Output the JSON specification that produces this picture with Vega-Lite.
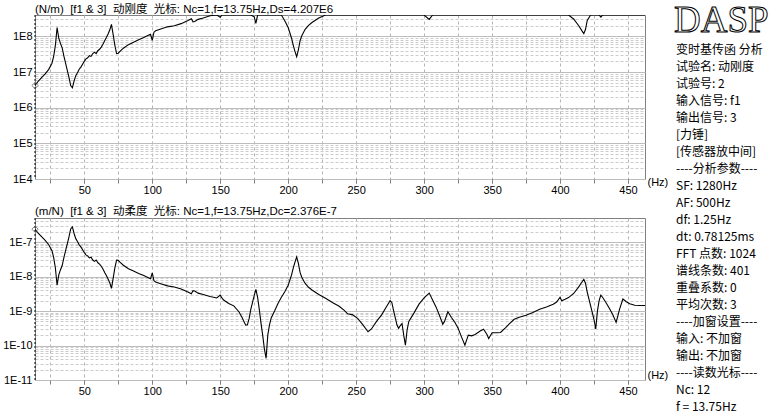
{
  "$schema": "https://vega.github.io/schema/vega-lite/v6.json",
  "background": "white",
  "padding": {"left": 0, "top": 2, "right": 0, "bottom": 0},
  "datasets": {
    "spec": [
      {"f":13.75,"k":4.207e6,"c":2.376e-7},{"f":16.25,"k":5.623e6,"c":1.778e-7},{"f":18.75,"k":7.079e6,"c":1.413e-7},{"f":21.25,"k":8.913e6,"c":1.122e-7},
      {"f":23.75,"k":1.175e7,"c":8.511e-8},{"f":26.25,"k":1.778e7,"c":5.623e-8},{"f":27.5,"k":2.818e7,"c":3.548e-8},{"f":28.75,"k":5.623e7,"c":1.778e-8},
      {"f":30.0,"k":1.778e8,"c":5.623e-9},{"f":31.25,"k":8.913e7,"c":1.122e-8},{"f":32.5,"k":6.310e7,"c":1.585e-8},{"f":33.75,"k":4.786e7,"c":2.089e-8},
      {"f":35.0,"k":2.818e7,"c":3.548e-8},{"f":36.25,"k":1.778e7,"c":5.623e-8},{"f":37.5,"k":1.122e7,"c":8.913e-8},{"f":38.75,"k":7.079e6,"c":1.413e-7},
      {"f":40.0,"k":4.169e6,"c":2.399e-7},{"f":41.25,"k":3.631e6,"c":2.754e-7},{"f":42.5,"k":5.623e6,"c":1.778e-7},{"f":43.75,"k":7.943e6,"c":1.259e-7},
      {"f":45.0,"k":9.550e6,"c":1.047e-7},{"f":46.25,"k":1.202e7,"c":8.318e-8},{"f":47.5,"k":1.380e7,"c":7.244e-8},{"f":48.75,"k":1.660e7,"c":6.026e-8},
      {"f":50.0,"k":1.995e7,"c":5.012e-8},{"f":51.25,"k":2.344e7,"c":4.266e-8},{"f":52.5,"k":2.512e7,"c":3.981e-8},{"f":53.75,"k":2.884e7,"c":3.467e-8},
      {"f":55.0,"k":2.754e7,"c":3.631e-8},{"f":56.25,"k":3.311e7,"c":3.020e-8},{"f":57.5,"k":3.631e7,"c":2.754e-8},{"f":58.75,"k":3.311e7,"c":3.020e-8},
      {"f":60.0,"k":3.981e7,"c":2.512e-8},{"f":61.25,"k":4.365e7,"c":2.291e-8},{"f":62.5,"k":5.012e7,"c":1.995e-8},{"f":63.75,"k":6.026e7,"c":1.660e-8},
      {"f":65.0,"k":7.586e7,"c":1.318e-8},{"f":66.25,"k":9.333e7,"c":1.072e-8},{"f":67.5,"k":1.175e8,"c":8.511e-9},{"f":68.75,"k":1.514e8,"c":6.607e-9},
      {"f":70.0,"k":2.188e8,"c":4.571e-9},{"f":71.25,"k":1.122e8,"c":8.913e-9},{"f":72.5,"k":5.623e7,"c":1.778e-8},{"f":73.75,"k":3.311e7,"c":3.020e-8},
      {"f":75.0,"k":3.388e7,"c":2.951e-8},{"f":76.25,"k":3.802e7,"c":2.630e-8},{"f":78.75,"k":4.677e7,"c":2.138e-8},{"f":82.5,"k":5.888e7,"c":1.698e-8},
      {"f":86.25,"k":6.918e7,"c":1.445e-8},{"f":90.0,"k":8.128e7,"c":1.230e-8},{"f":93.75,"k":9.333e7,"c":1.072e-8},{"f":97.5,"k":1.096e8,"c":9.120e-9},
      {"f":98.75,"k":1.148e8,"c":8.710e-9},{"f":100.0,"k":7.762e7,"c":1.288e-8},{"f":101.25,"k":1.318e8,"c":7.586e-9},{"f":102.5,"k":1.445e8,"c":6.918e-9},
      {"f":106.25,"k":1.622e8,"c":6.166e-9},{"f":111.25,"k":1.862e8,"c":5.370e-9},{"f":116.25,"k":1.995e8,"c":5.012e-9},{"f":121.25,"k":2.291e8,"c":4.365e-9},
      {"f":126.25,"k":2.818e8,"c":3.548e-9},{"f":128.75,"k":3.162e8,"c":3.162e-9},{"f":130.0,"k":2.570e8,"c":3.890e-9},{"f":131.25,"k":2.630e8,"c":3.802e-9},
      {"f":133.75,"k":3.020e8,"c":3.311e-9},{"f":137.5,"k":3.311e8,"c":3.020e-9},{"f":142.5,"k":3.802e8,"c":2.630e-9},{"f":147.5,"k":4.169e8,"c":2.399e-9},
      {"f":150.0,"k":3.467e8,"c":2.884e-9},{"f":151.25,"k":4.169e8,"c":2.399e-9},{"f":152.5,"k":4.786e8,"c":2.089e-9},{"f":156.25,"k":6.026e8,"c":1.660e-9},
      {"f":160.0,"k":7.079e8,"c":1.413e-9},{"f":163.75,"k":1.047e9,"c":9.550e-10},{"f":166.25,"k":1.585e9,"c":6.310e-10},{"f":168.75,"k":2.570e9,"c":3.890e-10},
      {"f":170.0,"k":2.512e9,"c":3.981e-10},{"f":171.25,"k":1.660e9,"c":6.026e-10},{"f":172.5,"k":8.913e8,"c":1.122e-9},{"f":175.0,"k":3.548e8,"c":2.818e-9},
      {"f":176.25,"k":2.344e8,"c":4.266e-9},{"f":177.5,"k":3.981e8,"c":2.512e-9},{"f":178.75,"k":8.913e8,"c":1.122e-9},{"f":180.0,"k":2.239e9,"c":4.467e-10},
      {"f":181.25,"k":5.012e9,"c":1.995e-10},{"f":182.5,"k":1.259e10,"c":7.943e-11},{"f":183.75,"k":2.344e10,"c":4.266e-11},{"f":185.0,"k":5.012e9,"c":1.995e-10},
      {"f":186.25,"k":2.512e9,"c":3.981e-10},{"f":187.5,"k":1.585e9,"c":6.310e-10},{"f":190.0,"k":1.0e9,"c":1.0e-9},{"f":192.5,"k":6.026e8,"c":1.660e-9},
      {"f":195.0,"k":3.981e8,"c":2.512e-9},{"f":197.5,"k":2.754e8,"c":3.631e-9},{"f":200.0,"k":1.778e8,"c":5.623e-9},{"f":202.5,"k":8.913e7,"c":1.122e-8},
      {"f":203.75,"k":5.623e7,"c":1.778e-8},{"f":205.0,"k":3.802e7,"c":2.630e-8},{"f":206.25,"k":2.692e7,"c":3.715e-8},{"f":207.5,"k":4.169e7,"c":2.399e-8},
      {"f":208.75,"k":7.586e7,"c":1.318e-8},{"f":210.0,"k":1.047e8,"c":9.550e-9},{"f":212.5,"k":1.585e8,"c":6.310e-9},{"f":215.0,"k":2.042e8,"c":4.898e-9},
      {"f":217.5,"k":2.455e8,"c":4.074e-9},{"f":222.5,"k":3.311e8,"c":3.020e-9},{"f":227.5,"k":4.266e8,"c":2.344e-9},{"f":232.5,"k":5.623e8,"c":1.778e-9},
      {"f":237.5,"k":7.244e8,"c":1.380e-9},{"f":241.25,"k":9.550e8,"c":1.047e-9},{"f":243.75,"k":1.202e9,"c":8.318e-10},{"f":247.5,"k":1.288e9,"c":7.762e-10},
      {"f":251.25,"k":1.660e9,"c":6.026e-10},{"f":255.0,"k":2.512e9,"c":3.981e-10},{"f":258.75,"k":3.981e9,"c":2.512e-10},{"f":261.25,"k":3.311e9,"c":3.020e-10},
      {"f":265.0,"k":1.995e9,"c":5.012e-10},{"f":268.75,"k":1.288e9,"c":7.762e-10},{"f":272.5,"k":7.244e8,"c":1.380e-9},{"f":275.0,"k":5.012e8,"c":1.995e-9},
      {"f":276.25,"k":5.623e8,"c":1.778e-9},{"f":277.5,"k":9.550e8,"c":1.047e-9},{"f":280.0,"k":2.512e9,"c":3.981e-10},{"f":281.25,"k":3.162e9,"c":3.162e-10},
      {"f":282.5,"k":2.630e9,"c":3.802e-10},{"f":283.75,"k":2.291e9,"c":4.365e-10},{"f":285.0,"k":5.012e9,"c":1.995e-10},{"f":286.25,"k":9.772e9,"c":1.023e-10},
      {"f":287.5,"k":3.548e9,"c":2.818e-10},{"f":288.75,"k":1.995e9,"c":5.012e-10},{"f":292.5,"k":1.148e9,"c":8.710e-10},{"f":296.25,"k":6.310e8,"c":1.585e-9},
      {"f":300.0,"k":4.169e8,"c":2.399e-9},{"f":303.75,"k":3.020e8,"c":3.311e-9},{"f":306.25,"k":4.786e8,"c":2.089e-9},{"f":308.75,"k":7.586e8,"c":1.318e-9},
      {"f":311.25,"k":1.318e9,"c":7.586e-10},{"f":313.75,"k":2.399e9,"c":4.169e-10},{"f":315.0,"k":1.995e9,"c":5.012e-10},{"f":317.5,"k":1.047e9,"c":9.550e-10},
      {"f":320.0,"k":1.514e9,"c":6.607e-10},{"f":322.5,"k":2.089e9,"c":4.786e-10},{"f":325.0,"k":3.162e9,"c":3.162e-10},{"f":327.5,"k":5.623e9,"c":1.778e-10},
      {"f":330.0,"k":9.772e9,"c":1.023e-10},{"f":332.5,"k":5.012e9,"c":1.995e-10},{"f":335.0,"k":5.248e9,"c":1.905e-10},{"f":337.5,"k":4.786e9,"c":2.089e-10},
      {"f":341.25,"k":3.802e9,"c":2.630e-10},{"f":343.75,"k":3.388e9,"c":2.951e-10},{"f":346.25,"k":4.786e9,"c":2.089e-10},{"f":347.5,"k":6.310e9,"c":1.585e-10},
      {"f":350.0,"k":4.266e9,"c":2.344e-10},{"f":353.75,"k":4.266e9,"c":2.344e-10},{"f":356.25,"k":4.169e9,"c":2.399e-10},{"f":360.0,"k":3.020e9,"c":3.311e-10},
      {"f":362.5,"k":2.399e9,"c":4.169e-10},{"f":366.25,"k":1.738e9,"c":5.754e-10},{"f":370.0,"k":1.514e9,"c":6.607e-10},{"f":375.0,"k":1.318e9,"c":7.586e-10},
      {"f":380.0,"k":1.096e9,"c":9.120e-10},{"f":385.0,"k":8.913e8,"c":1.122e-9},{"f":390.0,"k":7.586e8,"c":1.318e-9},{"f":395.0,"k":6.310e8,"c":1.585e-9},
      {"f":397.5,"k":5.495e8,"c":1.820e-9},{"f":400.0,"k":3.981e8,"c":2.512e-9},{"f":401.25,"k":5.012e8,"c":1.995e-9},{"f":403.75,"k":4.571e8,"c":2.188e-9},
      {"f":406.25,"k":4.074e8,"c":2.455e-9},{"f":410.0,"k":3.090e8,"c":3.236e-9},{"f":413.75,"k":1.995e8,"c":5.012e-9},{"f":416.25,"k":1.413e8,"c":7.079e-9},
      {"f":417.5,"k":1.202e8,"c":8.318e-9},{"f":418.75,"k":1.585e8,"c":6.310e-9},{"f":420.0,"k":2.818e8,"c":3.548e-9},{"f":422.5,"k":7.079e8,"c":1.413e-9},
      {"f":425.0,"k":1.778e9,"c":5.623e-10},{"f":426.25,"k":3.311e9,"c":3.020e-10},{"f":427.5,"k":1.0e9,"c":1.0e-9},{"f":428.75,"k":5.012e8,"c":1.995e-9},
      {"f":430.0,"k":3.467e8,"c":2.884e-9},{"f":431.25,"k":3.981e8,"c":2.512e-9},{"f":433.75,"k":5.623e8,"c":1.778e-9},{"f":436.25,"k":8.318e8,"c":1.202e-9},
      {"f":438.75,"k":1.259e9,"c":7.943e-10},{"f":441.25,"k":2.138e9,"c":4.677e-10},{"f":442.5,"k":1.413e9,"c":7.079e-10},{"f":443.75,"k":8.913e8,"c":1.122e-9},
      {"f":446.25,"k":4.467e8,"c":2.239e-9},{"f":448.75,"k":5.370e8,"c":1.862e-9},{"f":451.25,"k":6.166e8,"c":1.622e-9},{"f":455.0,"k":6.761e8,"c":1.479e-9},
      {"f":458.75,"k":6.918e8,"c":1.445e-9},{"f":462.5,"k":6.918e8,"c":1.445e-9}
    ],
    "cursor": [{"f": 13.75, "k": 4.207e6, "c": 2.376e-7}],
    "logo": [{"line": 0, "text": "DASP"}],
    "info": [
      {"line": 1, "text": "变时基传函 分析"},
      {"line": 2, "text": "试验名: 动刚度"},
      {"line": 3, "text": "试验号: 2"},
      {"line": 4, "text": "输入信号: f1"},
      {"line": 5, "text": "输出信号: 3"},
      {"line": 6, "text": "[力锤]"},
      {"line": 7, "text": "[传感器放中间]"},
      {"line": 8, "text": "----分析参数----"},
      {"line": 9, "text": "SF: 1280Hz"},
      {"line": 10, "text": "AF: 500Hz"},
      {"line": 11, "text": "df: 1.25Hz"},
      {"line": 12, "text": "dt: 0.78125ms"},
      {"line": 13, "text": "FFT 点数: 1024"},
      {"line": 14, "text": "谱线条数: 401"},
      {"line": 15, "text": "重叠系数: 0"},
      {"line": 16, "text": "平均次数: 3"},
      {"line": 17, "text": "----加窗设置----"},
      {"line": 18, "text": "输入: 不加窗"},
      {"line": 19, "text": "输出: 不加窗"},
      {"line": 20, "text": "----读数光标----"},
      {"line": 21, "text": "Nc: 12"},
      {"line": 22, "text": "f = 13.75Hz"}
    ]
  },
  "columns": 2,
  "bounds": "flush",
  "spacing": {"row": 39, "column": 31},
  "concat": [
    {
      "width": 610,
      "height": 164,
      "title": {"text": "(N/m)\u00a0\u00a0[f1 & 3]\u00a0\u00a0动刚度\u00a0\u00a0光标: Nc=1,f=13.75Hz,Ds=4.207E6", "offset": -2},
      "resolve": {"axis": {"x": "independent"}},
      "layer": [
        {
          "data": {"name": "spec"},
          "mark": {"type": "line", "color": "black", "strokeWidth": 1.1, "clip": true},
          "encoding": {
            "x": {"field": "f", "type": "quantitative",
                  "scale": {"domain": [13.75, 462.5], "nice": false, "zero": false},
                  "axis": {"orient": "bottom", "values": [25,50,75,100,125,150,175,200,225,250,275,300,325,350,375,400,425,450],
                           "labels": false, "title": null}},
            "y": {"field": "k", "type": "quantitative",
                  "scale": {"type": "log", "domain": [1e4, 4e8], "nice": false, "clamp": true},
                  "axis": {"values": [1e4,2e4,3e4,4e4,5e4,6e4,7e4,8e4,9e4,1e5,2e5,3e5,4e5,5e5,6e5,7e5,8e5,9e5,1e6,2e6,3e6,4e6,5e6,6e6,7e6,8e6,9e6,1e7,2e7,3e7,4e7,5e7,6e7,7e7,8e7,9e7,1e8,2e8,3e8],
                           "labelExpr": "abs(log(datum.value)/LN10 - round(log(datum.value)/LN10)) < 0.01 ? '1E' + round(log(datum.value)/LN10) : ''",
                           "gridDash": {"condition": {"test": "abs(log(datum.value)/LN10 - round(log(datum.value)/LN10)) < 0.01", "value": []}, "value": [3, 2]},
                           "gridColor": {"condition": {"test": "abs(log(datum.value)/LN10 - round(log(datum.value)/LN10)) < 0.01", "value": "#bdbdbd"}, "value": "#cccccc"}}}
          }
        },
        {
          "data": {"name": "cursor"},
          "mark": {"type": "rule", "color": "black", "strokeDash": [2, 2], "strokeWidth": 1},
          "encoding": {"x": {"field": "f", "type": "quantitative",
                             "axis": {"orient": "bottom", "values": [50,100,150,200,250,300,350,400,450], "grid": false,
                                      "title": "(Hz)", "titleY": 3}}}
        },
        {
          "data": {"name": "cursor"},
          "mark": {"type": "point", "shape": "diamond", "filled": false, "color": "#555555", "size": 40, "strokeWidth": 1},
          "encoding": {"x": {"field": "f", "type": "quantitative", "axis": null}, "y": {"field": "k", "type": "quantitative"}}
        }
      ]
    },
    {
      "width": 100,
      "height": 164,
      "view": {"stroke": null},
      "layer": [
        {
          "data": {"name": "logo"},
          "mark": {"type": "text", "font": "Liberation Serif", "fontSize": 37, "fill": "white", "stroke": "black", "strokeWidth": 1, "align": "left", "baseline": "alphabetic", "dx": -2, "dy": -1},
          "encoding": {
            "x": {"datum": 0, "type": "quantitative", "scale": {"domain": [0, 100], "nice": false, "zero": false}, "axis": null},
            "y": {"field": "line", "type": "quantitative", "scale": {"domain": [-1.059, 8.588], "reverse": true, "nice": false, "zero": false}, "axis": null},
            "text": {"field": "text"}
          }
        },
        {
          "data": {"name": "info"},
          "mark": {"type": "text", "font": "Noto Sans CJK SC", "fontSize": 12, "align": "left", "baseline": "middle", "color": "black"},
          "encoding": {
            "x": {"datum": 0, "type": "quantitative"},
            "y": {"field": "line", "type": "quantitative"},
            "text": {"field": "text"}
          }
        }
      ]
    },
    {
      "width": 610,
      "height": 162,
      "title": {"text": "(m/N)\u00a0\u00a0[f1 & 3]\u00a0\u00a0动柔度\u00a0\u00a0光标: Nc=1,f=13.75Hz,Dc=2.376E-7", "offset": -2},
      "resolve": {"axis": {"x": "independent"}},
      "layer": [
        {
          "data": {"name": "spec"},
          "mark": {"type": "line", "color": "black", "strokeWidth": 1.1, "clip": true},
          "encoding": {
            "x": {"field": "f", "type": "quantitative",
                  "scale": {"domain": [13.75, 462.5], "nice": false, "zero": false},
                  "axis": {"orient": "bottom", "values": [25,50,75,100,125,150,175,200,225,250,275,300,325,350,375,400,425,450],
                           "labels": false, "title": null}},
            "y": {"field": "c", "type": "quantitative",
                  "scale": {"type": "log", "domain": [1e-11, 5e-7], "nice": false, "clamp": true},
                  "axis": {"values": [1e-11,2e-11,3e-11,4e-11,5e-11,6e-11,7e-11,8e-11,9e-11,1e-10,2e-10,3e-10,4e-10,5e-10,6e-10,7e-10,8e-10,9e-10,1e-9,2e-9,3e-9,4e-9,5e-9,6e-9,7e-9,8e-9,9e-9,1e-8,2e-8,3e-8,4e-8,5e-8,6e-8,7e-8,8e-8,9e-8,1e-7,2e-7,3e-7,4e-7],
                           "labelExpr": "abs(log(datum.value)/LN10 - round(log(datum.value)/LN10)) < 0.01 ? '1E' + round(log(datum.value)/LN10) : ''",
                           "gridDash": {"condition": {"test": "abs(log(datum.value)/LN10 - round(log(datum.value)/LN10)) < 0.01", "value": []}, "value": [3, 2]},
                           "gridColor": {"condition": {"test": "abs(log(datum.value)/LN10 - round(log(datum.value)/LN10)) < 0.01", "value": "#bdbdbd"}, "value": "#cccccc"}}}
          }
        },
        {
          "data": {"name": "cursor"},
          "mark": {"type": "rule", "color": "black", "strokeDash": [2, 2], "strokeWidth": 1},
          "encoding": {"x": {"field": "f", "type": "quantitative",
                             "axis": {"orient": "bottom", "values": [50,100,150,200,250,300,350,400,450], "grid": false,
                                      "title": "(Hz)", "titleY": -5}}}
        },
        {
          "data": {"name": "cursor"},
          "mark": {"type": "point", "shape": "diamond", "filled": false, "color": "#555555", "size": 40, "strokeWidth": 1},
          "encoding": {"x": {"field": "f", "type": "quantitative", "axis": null}, "y": {"field": "c", "type": "quantitative"}}
        }
      ]
    }
  ],
  "config": {
    "view": {"stroke": "#808080"},
    "title": {"anchor": "start", "frame": "group", "fontSize": 11.5, "fontWeight": "normal", "font": "Liberation Sans, Noto Sans CJK SC", "color": "black"},
    "axisX": {"grid": true, "gridDash": [3, 3], "gridColor": "#b4b4b4", "tickSize": 4, "tickColor": "#808080", "domain": false,
              "labelFont": "Liberation Sans", "labelFontSize": 11, "labelColor": "black", "labelPadding": 1, "labelFlush": false,
              "titleFont": "Liberation Sans", "titleFontSize": 11, "titleFontWeight": "normal", "titleColor": "black",
              "titleAlign": "left", "titleBaseline": "middle", "titleX": 612},
    "axisY": {"grid": true, "ticks": false, "domain": false, "labelFont": "Liberation Sans", "labelFontSize": 11, "labelColor": "black",
              "labelPadding": 3, "minExtent": 34, "maxExtent": 34, "labelOverlap": false, "labelBound": false, "title": null}
  }
}
